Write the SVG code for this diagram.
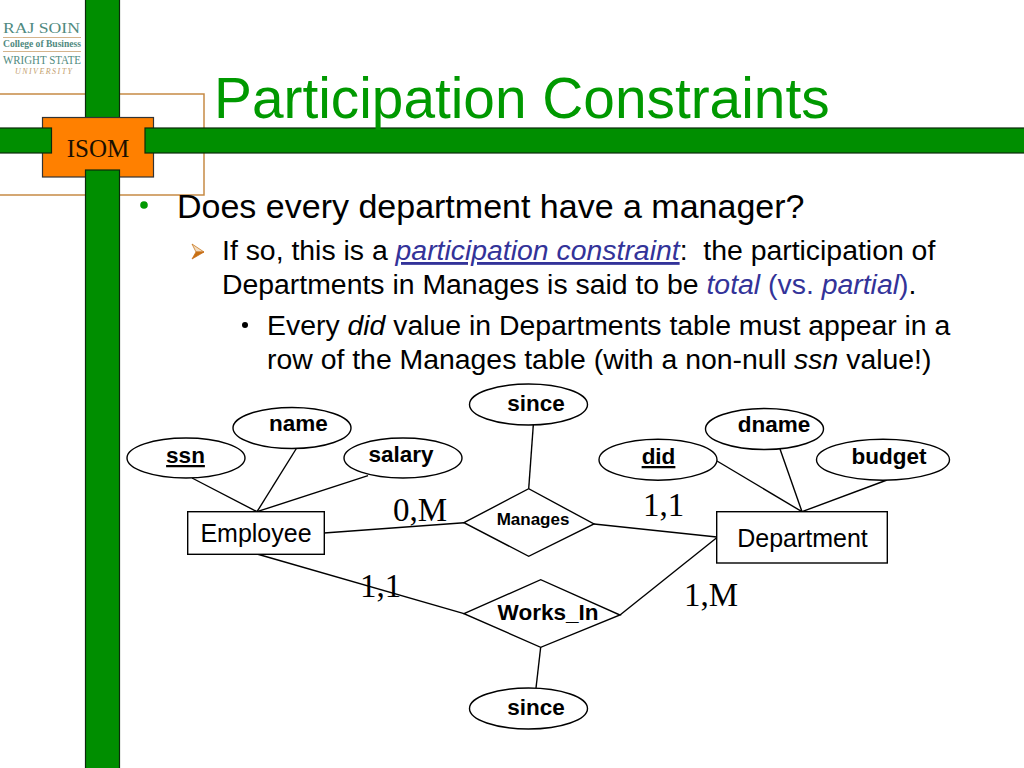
<svg xmlns="http://www.w3.org/2000/svg" width="1024" height="768" viewBox="0 0 1024 768">
<style>
.s{font-family:"Liberation Sans",Arial,sans-serif}
.t{font-family:"Liberation Serif","Times New Roman",serif}
.body{fill:#000;font-size:28.400px;white-space:pre}
.b{font-weight:bold;font-size:22.500px;text-anchor:middle;fill:#000}
.n{fill:#fff;stroke:#000;stroke-width:1.4}
.c{stroke:#000;stroke-width:1.4;fill:none}
.card{font-size:33px;fill:#000}
.bar{fill:#008e00;stroke:#0b2a0b;stroke-width:1.2}
.lnk{fill:#333399}
</style>
<rect width="1024" height="768" fill="#fff"/>
<g id="frame">
<path d="M0 94H204V195H0" fill="none" stroke="#c68a45" stroke-width="1.5"/>
<rect class="bar" x="85.500" y="-2" width="34" height="121"/>
<rect x="42.500" y="117.500" width="111" height="59.500" fill="#ff8000" stroke="#333" stroke-width="1.2"/>
<rect class="bar" x="-2" y="128" width="53.500" height="25"/>
<rect class="bar" x="145" y="128" width="881" height="25"/>
<rect class="bar" x="85.500" y="170" width="34" height="600"/>
<text class="t" x="98" y="157" font-size="25" text-anchor="middle" fill="#1a1000">ISOM</text>
</g>
<g id="logo" font-family="Liberation Serif,serif">
<text x="3" y="33" font-size="15" fill="#4f8a80" textLength="77" lengthAdjust="spacingAndGlyphs">RAJ SOIN</text>
<rect x="3" y="37" width="78" height="1" fill="#d4b48c"/>
<text x="3" y="47" font-size="9.500" font-weight="bold" fill="#4f8a80" textLength="78" lengthAdjust="spacingAndGlyphs">College of Business</text>
<rect x="3" y="51" width="78" height="1" fill="#d4b48c"/>
<text x="3" y="64" font-size="13" fill="#4f8a80" textLength="78" lengthAdjust="spacingAndGlyphs">WRIGHT STATE</text>
<text x="15" y="73.500" font-size="8" font-style="italic" fill="#c4a06e" textLength="57" lengthAdjust="spacing">UNIVERSITY</text>
</g>
<text class="s" x="214" y="118" font-size="56.800" fill="#009900">Participation Constraints</text>
<g id="bullets" class="s">
<circle cx="144" cy="205" r="3.800" fill="#009900"/>
<text x="177" y="218" font-size="34" fill="#000">Does every department have a manager?</text>
<path d="M192 244L204 252L196 252Z" fill="#f3dcc0" stroke="#c87820" stroke-width=".8"/>
<path d="M192 259L204 252L196 252Z" fill="#c87010" stroke="#c87020" stroke-width=".8"/>
<text class="body" x="222" y="260" xml:space="preserve">If so, this is a <tspan class="lnk" font-style="italic" text-decoration="underline">participation constraint</tspan>:  the participation of</text>
<text class="body" x="222" y="294" xml:space="preserve">Departments in Manages is said to be <tspan class="lnk" font-style="italic">total</tspan> <tspan class="lnk">(vs.</tspan> <tspan class="lnk" font-style="italic">partial</tspan><tspan class="lnk">)</tspan>.</text>
<circle cx="245" cy="325" r="3" fill="#000"/>
<text class="body" x="267" y="335">Every <tspan font-style="italic">did</tspan> value in Departments table must appear in a</text>
<text class="body" x="267" y="369">row of the Manages table (with a non-null <tspan font-style="italic">ssn</tspan> value!)</text>
</g>
<g id="connectors" class="c">
<path d="M192 478L257 511.700"/>
<path d="M296.700 448L257 511.700"/>
<path d="M368 475.700L257 511.700"/>
<path d="M324 533L464 522.700"/>
<path d="M257 554L464 613.700"/>
<path d="M533.300 425L528.700 488.700"/>
<path d="M540.700 647L536 688"/>
<path d="M594 524L716.700 537"/>
<path d="M716.700 537.700L620 615"/>
<path d="M717 461L802 511.700"/>
<path d="M780 449L802 511.700"/>
<path d="M887 480L802 511.700"/>
</g>
<g id="ssn" class="s"><ellipse class="n" cx="186" cy="458" rx="59" ry="20"/><text class="b" x="185.500" y="463" text-decoration="underline">ssn</text></g>
<g id="name" class="s"><ellipse class="n" cx="292" cy="428" rx="59" ry="20.500"/><text class="b" x="298.500" y="431">name</text></g>
<g id="salary" class="s"><ellipse class="n" cx="403" cy="458" rx="59" ry="20"/><text class="b" x="401" y="462">salary</text></g>
<g id="since1" class="s"><ellipse class="n" cx="528.500" cy="404.500" rx="59" ry="20.500"/><text class="b" x="536" y="411">since</text></g>
<g id="since2" class="s"><ellipse class="n" cx="528.500" cy="708.500" rx="59" ry="20.500"/><text class="b" x="536" y="715">since</text></g>
<g id="did" class="s"><ellipse class="n" cx="658" cy="459.700" rx="59" ry="20.500"/><text class="b" x="658.500" y="464" text-decoration="underline">did</text></g>
<g id="dname" class="s"><ellipse class="n" cx="764.500" cy="429" rx="59" ry="20.500"/><text class="b" x="774" y="432">dname</text></g>
<g id="budget" class="s"><ellipse class="n" cx="883" cy="459.700" rx="66.500" ry="20.500"/><text class="b" x="889" y="464">budget</text></g>
<g id="employee" class="s"><rect class="n" x="187.700" y="511.700" width="136.600" height="42.600"/><text x="256" y="542" font-size="25" text-anchor="middle">Employee</text></g>
<g id="department" class="s"><rect class="n" x="716.700" y="511.700" width="170.600" height="51.300"/><text x="802.500" y="547" font-size="25" text-anchor="middle">Department</text></g>
<g id="manages" class="s"><path class="n" d="M464 522.700L528.700 488.700L594 524L528.700 556.300Z"/><text x="533" y="525" font-size="17" font-weight="bold" text-anchor="middle">Manages</text></g>
<g id="works_in" class="s"><path class="n" d="M464 613.700L540.700 579.700L620 615L540.700 647.300Z"/><text x="548" y="620" font-size="22.500" font-weight="bold" text-anchor="middle">Works_In</text></g>
<g id="cardinalities" class="t">
<text class="card" x="393" y="521">0,M</text>
<text class="card" x="360" y="597">1,1</text>
<text class="card" x="643" y="516">1,1</text>
<text class="card" x="684" y="606">1,M</text>
</g>
</svg>
